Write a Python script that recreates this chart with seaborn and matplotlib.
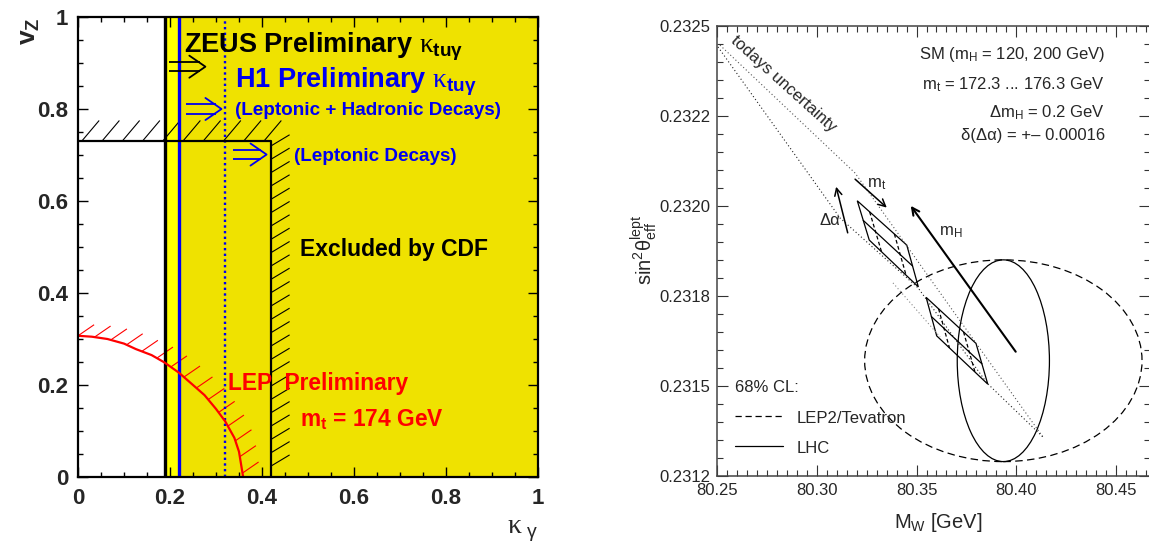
import numpy as np
import matplotlib
matplotlib.use("Agg")
import matplotlib.pyplot as plt
import seaborn as sns
from matplotlib.patches import Ellipse, Polygon
from matplotlib.ticker import MultipleLocator, FixedLocator

# ---------------- data: left panel (kappa_gamma vs v_Z limits) ----------------
zeus_kappa_limit = 0.19
h1_kappa_limit = 0.22
h1_lept_kappa_limit = 0.32
cdf_kappa_limit = 0.42
cdf_vz_limit = 0.73
lep_kappa = [0.0, 0.03, 0.064, 0.10, 0.126, 0.16, 0.188, 0.219, 0.25, 0.275, 0.30, 0.32, 0.34, 0.35, 0.359]
lep_vz = [0.307, 0.305, 0.300, 0.290, 0.278, 0.265, 0.249, 0.227, 0.200, 0.178, 0.148, 0.121, 0.085, 0.055, 0.0]
left_ticks = [0, 0.2, 0.4, 0.6, 0.8, 1]
left_ticklabels = ["0", "0.2", "0.4", "0.6", "0.8", "1"]

# ---------------- data: right panel (M_W vs sin^2 theta_eff) ----------------
band_upper_mw = [80.2515, 80.3192, 80.3633, 80.4134]
band_upper_s2w = [0.232446, 0.232091, 0.231747, 0.231358]
band_lower_mw = [80.2505, 80.3117, 80.3508, 80.3853, 80.4134]
band_lower_s2w = [0.232441, 0.231966, 0.231772, 0.231508, 0.231358]
band_mid_mw = [80.3382, 80.3618]
band_mid_s2w = [0.231786, 0.231636]
para_mh200_mw = [80.3203, 80.3451, 80.3509, 80.3263]
para_mh200_s2w = [0.232014, 0.231891, 0.231775, 0.231905]
para_mh120_mw = [80.3548, 80.3798, 80.3857, 80.3601]
para_mh120_s2w = [0.231746, 0.231618, 0.231505, 0.231639]
ellipse_center = (80.3935, 0.23157)
lep2_halfwidths = (0.0695, 0.00028)
lhc_halfwidths = (0.0231, 0.00028)
arrow_mt = [(80.3192, 0.232074), (80.3351, 0.231995)]
arrow_dalpha = [(80.3155, 0.231925), (80.3097, 0.232053)]
arrow_mh = [(80.3997, 0.231595), (80.3471, 0.232000)]
right_xticks = [80.25, 80.30, 80.35, 80.40, 80.45]
right_xticklabels = ["80.25", "80.30", "80.35", "80.40", "80.45"]
right_yticks = [0.23125, 0.2315, 0.23175, 0.2320, 0.23225, 0.2325]
right_yticklabels = ["0.2312", "0.2315", "0.2318", "0.2320", "0.2322", "0.2325"]

sns.set_theme(style="ticks")
plt.rcParams.update({
    "font.family": ["Liberation Sans", "DejaVu Sans"],
    "mathtext.fontset": "custom",
    "mathtext.rm": "Liberation Sans",
    "mathtext.it": "Liberation Serif",
    "mathtext.bf": "Liberation Sans:bold",
    "mathtext.default": "regular",
})

W, H = 1149, 542
fig = plt.figure(figsize=(W / 100, H / 100), dpi=100)
fig.patch.set_facecolor("white")
axL = fig.add_axes([78 / W, 65 / H, 460 / W, 460 / H])
axR = fig.add_axes([717 / W, 66 / H, 433 / W, 450.3 / H])

YEL1 = "#FFFF00"
YEL2 = "#EFE200"
BLUE = "#0000F0"
RED = "#FF0000"


def stroke_hatch(ax, xs, ys, spacing, vec, color, lw, start=0.0):
    xs = np.asarray(xs, float)
    ys = np.asarray(ys, float)
    seg = np.hypot(np.diff(xs), np.diff(ys))
    cum = np.concatenate([[0.0], np.cumsum(seg)])
    s = np.arange(start, cum[-1] + 1e-9, spacing)
    px = np.interp(s, cum, xs)
    py = np.interp(s, cum, ys)
    for x0, y0 in zip(px, py):
        ax.plot([x0, x0 + vec[0]], [y0, y0 + vec[1]], color=color, lw=lw,
                solid_capstyle="butt", zorder=2)


def double_arrow(ax, x0, x1, y, color, sep=0.010, head_h=0.024, head_d=0.035, lw=1.3):
    for dy in (-sep, sep):
        ax.plot([x0, x1 - 0.012], [y + dy, y + dy], color=color, lw=lw,
                solid_capstyle="butt", zorder=4)
    ax.plot([x1 - head_d, x1, x1 - head_d], [y + head_h, y, y - head_h],
            color=color, lw=lw, zorder=4)


# ---------------- left panel ----------------
ax = axL
ax.axvspan(zeus_kappa_limit, 1, color=YEL1, lw=0, zorder=0)
ax.axvspan(h1_kappa_limit, 1, color=YEL2, lw=0, zorder=0.1)
ax.axvline(zeus_kappa_limit, color="black", lw=2.4, zorder=3)
ax.axvline(h1_kappa_limit, color=BLUE, lw=2.4, zorder=3)
ax.axvline(h1_lept_kappa_limit, color=BLUE, lw=1.7, ls=(0, (1.0, 1.4)), zorder=3)

sns.lineplot(x=[0, cdf_kappa_limit, cdf_kappa_limit], y=[cdf_vz_limit, cdf_vz_limit, 0],
             sort=False, estimator=None, color="black", lw=1.6, ax=ax, zorder=3)
stroke_hatch(ax, [0, cdf_kappa_limit + 0.02], [cdf_vz_limit, cdf_vz_limit], 0.044,
             (0.038, 0.045), "black", 0.8, start=0.008)
stroke_hatch(ax, [cdf_kappa_limit, cdf_kappa_limit], [cdf_vz_limit - 0.01, 0], 0.029,
             (0.04, 0.024), "black", 0.8, start=0.0)

sns.lineplot(x=lep_kappa, y=lep_vz, sort=False, estimator=None, color=RED, lw=1.6,
             ax=ax, zorder=3)
stroke_hatch(ax, lep_kappa, lep_vz, 0.036, (0.035, 0.024), RED, 0.8, start=0.0)

double_arrow(ax, 0.198, 0.277, 0.892, "black")
double_arrow(ax, 0.235, 0.312, 0.800, BLUE)
double_arrow(ax, 0.336, 0.410, 0.701, BLUE)

ax.text(0.231, 0.922, r"ZEUS Preliminary $\mathit{\kappa}_{\mathbf{tu\gamma}}$",
        fontsize=19.5, fontweight="bold", color="black", ha="left", va="baseline", zorder=5)
ax.text(0.342, 0.846, r"H1 Preliminary $\mathit{\kappa}_{\mathbf{tu\gamma}}$",
        fontsize=19.5, fontweight="bold", color=BLUE, ha="left", va="baseline", zorder=5)
ax.text(0.342, 0.786, "(Leptonic + Hadronic Decays)", fontsize=13.6, fontweight="bold",
        color=BLUE, ha="left", va="baseline", zorder=5)
ax.text(0.469, 0.686, "(Leptonic Decays)", fontsize=13.6, fontweight="bold",
        color=BLUE, ha="left", va="baseline", zorder=5)
ax.text(0.482, 0.481, "Excluded by CDF", fontsize=16.5, fontweight="bold",
        color="black", ha="left", va="baseline", zorder=5)
ax.text(0.326, 0.189, "LEP  Preliminary", fontsize=16.4, fontweight="bold",
        color=RED, ha="left", va="baseline", zorder=5)
ax.text(0.482, 0.111, r"m$_{t}$ = 174 GeV", fontsize=16.4, fontweight="bold",
        color=RED, ha="left", va="baseline", zorder=5)

ax.set_xlim(0, 1)
ax.set_ylim(0, 1)
ax.set_xlabel("")
ax.set_ylabel("")
ax.xaxis.set_major_locator(FixedLocator(left_ticks))
ax.yaxis.set_major_locator(FixedLocator(left_ticks))
ax.set_xticklabels(left_ticklabels)
ax.set_yticklabels(left_ticklabels)
ax.xaxis.set_minor_locator(MultipleLocator(0.05))
ax.yaxis.set_minor_locator(MultipleLocator(0.05))
ax.tick_params(which="both", direction="in", top=True, right=True, color="black", width=1.0)
ax.tick_params(which="major", length=7, labelsize=16, pad=8)
ax.tick_params(which="minor", length=3.9)
ax.tick_params(axis="y", which="major", pad=7)
for lab in ax.get_xticklabels() + ax.get_yticklabels():
    lab.set_fontweight("bold")
for sp in ax.spines.values():
    sp.set_visible(True)
    sp.set_color("black")
    sp.set_linewidth(1.6)
    sp.set_zorder(6)
ax.text(-0.104, 1.0, r"v$_{Z}$", transform=ax.transAxes, rotation=90, fontsize=19,
        fontweight="bold", ha="center", va="top")
ax.text(1.0, -0.122, r"$\mathit{\kappa}_{\ \gamma}$", transform=ax.transAxes, fontsize=20,
        ha="right", va="baseline")

# ---------------- right panel ----------------
ax = axR
dot = (0, (1.0, 2.2))
sns.lineplot(x=band_upper_mw, y=band_upper_s2w, sort=False, estimator=None, color="#555555",
             lw=0.8, linestyle=dot, ax=ax)
sns.lineplot(x=band_lower_mw, y=band_lower_s2w, sort=False, estimator=None, color="#222222",
             lw=0.8, linestyle=dot, ax=ax)
sns.lineplot(x=band_mid_mw, y=band_mid_s2w, sort=False, estimator=None, color="#888888",
             lw=0.8, linestyle=dot, ax=ax)

ax.add_patch(Ellipse(ellipse_center, 2 * lep2_halfwidths[0], 2 * lep2_halfwidths[1],
                     fill=False, ec="black", lw=0.9, ls=(0, (6, 3.5))))
ax.add_patch(Ellipse(ellipse_center, 2 * lhc_halfwidths[0], 2 * lhc_halfwidths[1],
                     fill=False, ec="black", lw=0.9))

for pmw, ps in ((para_mh200_mw, para_mh200_s2w), (para_mh120_mw, para_mh120_s2w)):
    P = np.column_stack([pmw, ps])
    ax.add_patch(Polygon(P, closed=True, fill=False, ec="black", lw=0.9))
    A, B, C, D = P
    m1 = (A + D) / 2
    m2 = (B + C) / 2
    ax.plot([m1[0], m2[0]], [m1[1], m2[1]], color="black", lw=0.9)
    for f in (0.25, 0.75):
        q1 = A + f * (B - A)
        q2 = D + f * (C - D)
        ax.plot([q1[0], q2[0]], [q1[1], q2[1]], color="black", lw=0.9, ls=(0, (3, 2)))

for (s, t), lw in ((arrow_mt, 1.1), (arrow_dalpha, 1.1), (arrow_mh, 1.5)):
    ax.annotate("", xy=t, xytext=s,
                arrowprops=dict(arrowstyle="->", lw=lw, color="black", shrinkA=0, shrinkB=0,
                                mutation_scale=13))

ax.text(80.3252, 0.232052, r"m$_{t}$", fontsize=12, ha="left", va="baseline")
ax.text(80.3016, 0.231947, "Δα", fontsize=12, ha="left", va="baseline")
ax.text(80.3613, 0.231919, r"m$_{H}$", fontsize=12, ha="left", va="baseline")
ax.text(80.2831, 0.232338, "todays uncertainty", fontsize=12, rotation=-42,
        rotation_mode="anchor", ha="center", va="center")

tx = 0.896
ax.text(tx, 0.925, r"SM (m$_{H}$ = 120, 200 GeV)", transform=ax.transAxes, fontsize=12,
        ha="right", va="baseline")
ax.text(tx, 0.8594, r"m$_{t}$ = 172.3 ... 176.3 GeV", transform=ax.transAxes, fontsize=12,
        ha="right", va="baseline")
ax.text(tx, 0.797, r"Δm$_{H}$ = 0.2 GeV", transform=ax.transAxes, fontsize=12,
        ha="right", va="baseline")
ax.text(tx, 0.746, "δ(Δα) = +\u2013 0.00016", transform=ax.transAxes, fontsize=12,
        ha="right", va="baseline")

ax.text(0.0416, 0.1865, "68% CL:", transform=ax.transAxes, fontsize=12, ha="left", va="baseline")
ax.plot([0.0416, 0.1524], [0.1339, 0.1339], transform=ax.transAxes, color="black", lw=0.9,
        ls=(0, (5, 3)))
ax.text(0.1848, 0.1184, "LEP2/Tevatron", transform=ax.transAxes, fontsize=12, ha="left",
        va="baseline")
ax.plot([0.0416, 0.1524], [0.0673, 0.0673], transform=ax.transAxes, color="black", lw=0.9)
ax.text(0.1848, 0.0511, "LHC", transform=ax.transAxes, fontsize=12, ha="left", va="baseline")

ax.set_xlim(80.25, 80.467)
ax.set_ylim(0.23125, 0.2325)
ax.set_xlabel("")
ax.set_ylabel("")
ax.xaxis.set_major_locator(FixedLocator(right_xticks))
ax.yaxis.set_major_locator(FixedLocator(right_yticks))
ax.set_xticklabels(right_xticklabels)
ax.set_yticklabels(right_yticklabels)
ax.xaxis.set_minor_locator(MultipleLocator(0.005))
ax.yaxis.set_minor_locator(MultipleLocator(0.00005))
ax.tick_params(which="both", direction="in", top=True, right=True, color="#333333", width=0.8)
ax.tick_params(which="major", length=8, labelsize=12, pad=5)
ax.tick_params(which="minor", length=4.3)
for sp in ax.spines.values():
    sp.set_visible(True)
    sp.set_color("#444444")
    sp.set_linewidth(1.1)
ax.text(0.512, -0.1155, r"M$_{W}$ [GeV]", transform=ax.transAxes, fontsize=14.5,
        ha="center", va="baseline")
ax.text(-0.150, 0.502, r"sin$^{2}$θ$_{eff}^{lept}$", transform=ax.transAxes, fontsize=14.5,
        rotation=90, rotation_mode="anchor", ha="center", va="baseline")

fig.savefig("out.png", dpi=100, facecolor="white")
